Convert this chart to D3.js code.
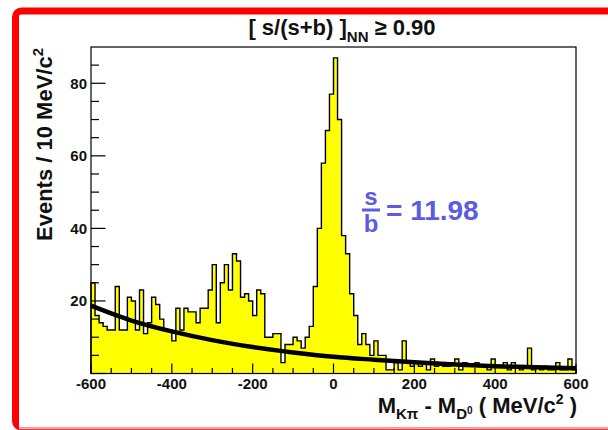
<!DOCTYPE html>
<html>
<head>
<meta charset="utf-8">
<script src="https://cdn.jsdelivr.net/npm/d3@7"></script>
<style>
  body { margin: 0; background: #fff; }
  svg { display: block; font-family: 'Liberation Sans', Arial, sans-serif; font-weight: bold; }
</style>
</head>
<body>
<div class="chart"></div>
<script>
// histogram: 120 bins of 10 MeV from -600 to 600
const binLow = -600;
const binWidth = 10;
const counts = [
  25, 16, 14, 13, 12, 12, 24, 12, 12, 21, 20, 12, 23, 11, 14, 21, 19, 15, 12, 12,
  9, 18, 12, 18, 17, 17, 14, 18, 18, 23, 30, 14, 25, 30, 23, 33, 31, 21, 22, 20,
  16, 23, 22, 10, 10, 11, 11, 3, 8, 8, 10, 9, 7, 10, 13, 24, 40, 58, 67, 77,
  87, 70, 38, 33, 22, 16, 8, 11, 8, 5, 9, 5, 5, 1, 1, 3, 1, 9, 3, 2,
  3, 2, 3, 1, 4, 2, 3, 2, 2, 3, 4, 1, 3, 2, 2, 3, 2, 2, 1, 4,
  2, 2, 3, 1, 3, 2, 1, 2, 7, 1, 2, 1, 2, 1, 1, 3, 1, 1, 4, 1
];

// background fit, every 100 MeV
const fitMass = [-600, -500, -400, -300, -200, -100, 0, 100, 200, 300, 400, 500, 600];
const fitValues = [18.7, 14.6, 11.6, 9.2, 7.3, 5.8, 4.6, 3.8, 3.1, 2.5, 2.0, 1.7, 1.45];

const xTicks = [-600, -400, -200, 0, 200, 400, 600];
const yTicks = [20, 40, 60, 80];

const width = 608;
const height = 430;
const frame = { left: 91, right: 576, top: 47, bottom: 373.5 };

const svg = d3
  .select('.chart')
  .append('svg')
  .attr('width', width)
  .attr('height', height);

// red border of the slide
svg.append('rect')
  .attr('x', 15.5).attr('y', 11)
  .attr('width', 700).attr('height', 416)
  .attr('rx', 6)
  .attr('fill', 'none')
  .attr('stroke', '#ff0000')
  .attr('stroke-width', 7);
svg.append('line')
  .attr('x1', 19).attr('x2', width)
  .attr('y1', 428.5).attr('y2', 428.5)
  .attr('stroke', '#f6b0b0')
  .attr('stroke-width', 1.5);
svg.append('rect')
  .attr('x', 19).attr('y', 15)
  .attr('width', width).attr('height', 412.5)
  .attr('fill', '#fff');

const x = d3.scaleLinear().domain([-600, 600]).range([frame.left, frame.right]);
const y = d3.scaleLinear().domain([0, 90]).range([frame.bottom, frame.top]);

// step outline of the histogram
const steps = [[binLow, 0]];
counts.forEach((c, i) => steps.push([binLow + i * binWidth, c]));
steps.push([binLow + counts.length * binWidth, counts[counts.length - 1]]);
steps.push([binLow + counts.length * binWidth, 0]);

const stepLine = d3.line()
  .x((d) => x(d[0]))
  .y((d) => y(d[1]))
  .curve(d3.curveStepAfter);

svg.append('path')
  .attr('d', stepLine(steps))
  .attr('fill', '#ffff00')
  .attr('stroke', '#000')
  .attr('stroke-width', 1.4)
  .attr('stroke-linejoin', 'miter');

// fit curve
const fitLine = d3.line()
  .x((d, i) => x(fitMass[i]))
  .y((d) => y(d))
  .curve(d3.curveMonotoneX);

svg.append('path')
  .attr('d', fitLine(fitValues))
  .attr('fill', 'none')
  .attr('stroke', '#000')
  .attr('stroke-width', 4.5);

// ticks, drawn inward like ROOT
const xMinor = d3.range(-600, 601, 50);
svg.append('g')
  .selectAll('line')
  .data(xMinor)
  .enter()
  .append('line')
  .attr('x1', (d) => x(d))
  .attr('x2', (d) => x(d))
  .attr('y1', frame.bottom)
  .attr('y2', (d) => frame.bottom - (d % 200 === 0 ? 10 : 5.5))
  .attr('stroke', '#000')
  .attr('stroke-width', 1.2);

const yMinor = d3.range(0, 90, 5);
svg.append('g')
  .selectAll('line')
  .data(yMinor)
  .enter()
  .append('line')
  .attr('x1', frame.left)
  .attr('x2', (d) => frame.left + (d % 20 === 0 ? 14.5 : 8))
  .attr('y1', (d) => y(d))
  .attr('y2', (d) => y(d))
  .attr('stroke', '#000')
  .attr('stroke-width', 1.2);

svg.append('rect')
  .attr('x', frame.left).attr('y', frame.top)
  .attr('width', frame.right - frame.left)
  .attr('height', frame.bottom - frame.top)
  .attr('fill', 'none')
  .attr('stroke', '#000')
  .attr('stroke-width', 1.2);

// tick labels
svg.append('g')
  .selectAll('text')
  .data(xTicks)
  .enter()
  .append('text')
  .attr('x', (d) => x(d))
  .attr('y', 389)
  .attr('text-anchor', 'middle')
  .attr('font-size', 15)
  .attr('fill', '#111')
  .text((d) => d);

svg.append('g')
  .selectAll('text')
  .data(yTicks)
  .enter()
  .append('text')
  .attr('x', 87)
  .attr('y', (d) => y(d) + 5.5)
  .attr('text-anchor', 'end')
  .attr('font-size', 15)
  .attr('fill', '#111')
  .text((d) => d);

// title
const title = svg.append('text')
  .attr('x', 342)
  .attr('y', 35)
  .attr('text-anchor', 'middle')
  .attr('font-size', 22)
  .attr('fill', '#111');
title.append('tspan').text('[ s/(s+b) ]');
title.append('tspan').attr('font-size', 15).attr('dy', 7).text('NN');
title.append('tspan').attr('dy', -7).text(' \u2265 0.90');

// y axis title
const yTitle = svg.append('text')
  .attr('transform', 'translate(52,48) rotate(-90)')
  .attr('text-anchor', 'end')
  .attr('font-size', 22)
  .attr('fill', '#111');
yTitle.append('tspan').text('Events / 10 MeV/c');
yTitle.append('tspan').attr('font-size', 15).attr('dy', -9).text('2');

// x axis title
const xTitle = svg.append('text')
  .attr('x', 577)
  .attr('y', 413)
  .attr('text-anchor', 'end')
  .attr('font-size', 22)
  .attr('fill', '#111');
xTitle.append('tspan').text('M');
xTitle.append('tspan').attr('font-size', 15).attr('dy', 6).text('K\u03c0');
xTitle.append('tspan').attr('dy', -6).text(' - M');
xTitle.append('tspan').attr('font-size', 15).attr('dy', 6).text('D');
xTitle.append('tspan').attr('font-size', 10).attr('dy', -5).text('0');
xTitle.append('tspan').attr('dy', -1).text(' ( MeV/c');
xTitle.append('tspan').attr('font-size', 14).attr('dy', -9).text('2');
xTitle.append('tspan').attr('dy', 9).text(' )');

// s/b annotation
const blue = '#5c5ce0';
svg.append('text')
  .attr('x', 371).attr('y', 205)
  .attr('text-anchor', 'middle')
  .attr('font-size', 24)
  .attr('fill', blue)
  .text('s');
svg.append('rect')
  .attr('x', 362).attr('y', 208.5)
  .attr('width', 18).attr('height', 3)
  .attr('fill', blue);
svg.append('text')
  .attr('x', 371).attr('y', 232)
  .attr('text-anchor', 'middle')
  .attr('font-size', 24)
  .attr('fill', blue)
  .text('b');
svg.append('text')
  .attr('x', 386).attr('y', 220)
  .attr('font-size', 28)
  .attr('fill', blue)
  .text('= 11.98');
</script>
</body>
</html>
